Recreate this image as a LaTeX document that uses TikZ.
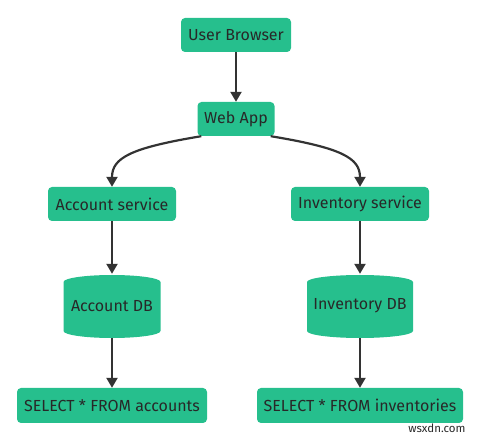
\documentclass[tikz,border=0pt]{standalone}
\usepackage{fontspec}
\setmainfont{Fira Sans}
\usetikzlibrary{arrows.meta}
\definecolor{mgreen}{RGB}{38,191,141}
\definecolor{mtext}{RGB}{40,40,40}
\definecolor{marrow}{RGB}{51,51,51}
\tikzset{
  box/.style={fill=mgreen, rounded corners=4pt, text=mtext, font=\fontsize{16}{19}\selectfont, inner sep=0pt, anchor=center},
  dbtext/.style={text=mtext, font=\fontsize{16}{19}\selectfont, inner sep=0pt, minimum width=97pt, minimum height=63pt},
  arr/.style={draw=marrow, line width=2.2pt, -{Triangle[length=10pt,width=11pt]}},
}
\begin{document}
\begin{tikzpicture}[x=1pt,y=-1pt]
\useasboundingbox (0,0) rectangle (480,438);
\node[box, minimum width=110pt, minimum height=34pt] (ub) at (236,35) {User Browser};
\node[box, minimum width=77pt, minimum height=34pt] (wa) at (236,119) {Web App};
\node[box, minimum width=128pt, minimum height=34pt] (as) at (112,204) {Account service};
\node[box, minimum width=138pt, minimum height=34pt] (is) at (360,204) {Inventory service};
% cylinders
\fill[mgreen] (63.5,282) arc[start angle=180, end angle=0, x radius=48.5pt, y radius=7pt] -- (160.5,331) arc[start angle=0, end angle=-180, x radius=48.5pt, y radius=7pt] -- cycle;
\fill[mgreen] (307,282) arc[start angle=180, end angle=0, x radius=53pt, y radius=7pt] -- (413,331) arc[start angle=0, end angle=-180, x radius=53pt, y radius=7pt] -- cycle;
\node[dbtext, minimum height=64pt] (adb) at (112,306) {Account DB};
\node[dbtext, minimum width=106pt, minimum height=64pt] (idb) at (360,306) {Inventory DB};
\node[box, minimum width=190pt, minimum height=35pt] (sa) at (112,405.5) {SELECT * FROM accounts};
\node[box, minimum width=206pt, minimum height=35pt] (si) at (360,405.5) {SELECT * FROM inventories};
\node[text=mtext, font=\fontsize{11.5}{13}\selectfont, inner sep=0pt] (wm) at (437,428) {wsxdn.com};
% edges
\draw[arr] (ub.south) -- (wa.north);
\draw[arr] ([xshift=4pt]wa.south west) .. controls (130,148) and (112,158) .. (as.north);
\draw[arr] ([xshift=-4pt]wa.south east) .. controls (342,148) and (360,158) .. (is.north);
\draw[arr] (as.south) -- (adb.north);
\draw[arr] (is.south) -- (idb.north);
\draw[arr] (adb.south) -- (sa.north);
\draw[arr] (idb.south) -- (si.north);
\end{tikzpicture}
\end{document}
